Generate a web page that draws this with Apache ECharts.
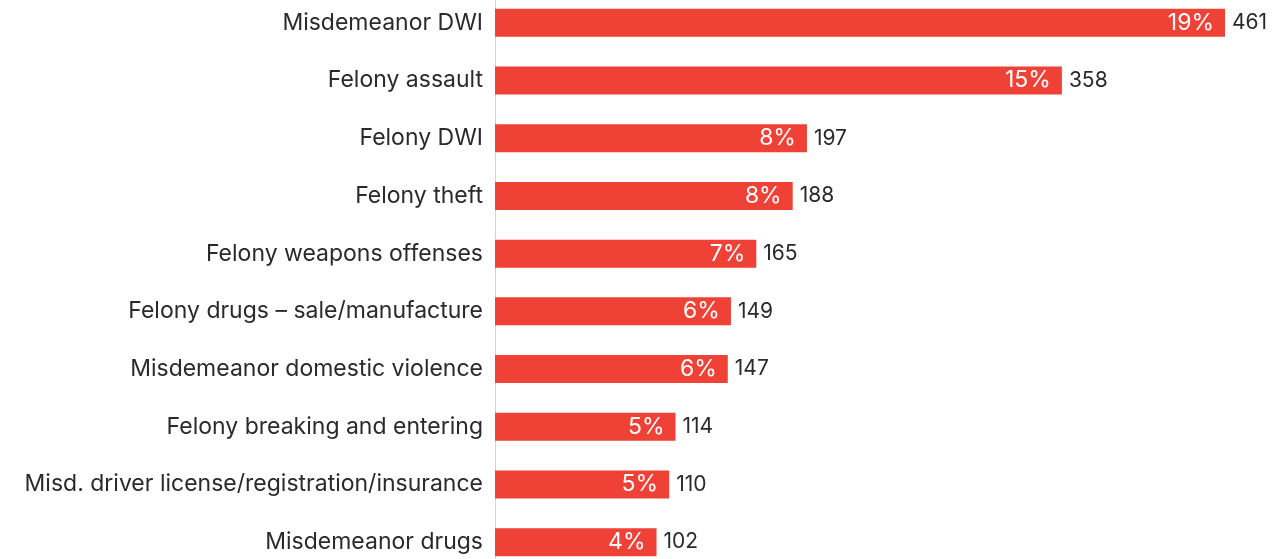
<!DOCTYPE html>
<html><head><meta charset="utf-8">
<script src="https://cdn.jsdelivr.net/npm/echarts@6/dist/echarts.min.js"></script>
<style>html,body{margin:0;padding:0;background:#fff;overflow:hidden;width:1279px;height:559px;position:relative}#c{position:absolute;left:0;top:-6px;width:1279px;height:577px}</style>
</head><body><div id="c"></div>
<script>
const categories = ["Misdemeanor DWI","Felony assault","Felony DWI","Felony theft","Felony weapons offenses","Felony drugs – sale/manufacture","Misdemeanor domestic violence","Felony breaking and entering","Misd. driver license/registration/insurance","Misdemeanor drugs"];
const counts = [461,358,197,188,165,149,147,114,110,102];
const percents = ["19%","15%","8%","8%","7%","6%","6%","5%","5%","4%"];

const chart = echarts.init(document.getElementById('c'));
const font = 'Inter';
chart.setOption({
  animation:false,
  grid:{left:495,right:54,top:0,bottom:0,containLabel:false},
  xAxis:{type:'value',min:0,max:461,show:false},
  yAxis:{type:'category',data:categories,inverse:true,
    axisLine:{show:true,lineStyle:{color:'#f7c4bf',width:1}},
    axisTick:{show:false},
    axisLabel:{color:'#2a2a2a',fontSize:23,fontFamily:font,margin:12}},
  series:[
    {type:'bar',data:counts,barWidth:28,itemStyle:{color:'#EF4136'},
     label:{show:true,position:'insideRight',color:'#fff',fontSize:23,fontFamily:font,distance:11,
       formatter:p=>percents[p.dataIndex]}},
    {type:'bar',data:counts,barWidth:28,barGap:'-100%',itemStyle:{color:'rgba(0,0,0,0)'},silent:true,
     label:{show:true,position:'right',color:'#2a2a2a',fontSize:21,fontFamily:font,distance:7}}
  ]
});
</script></body></html>
